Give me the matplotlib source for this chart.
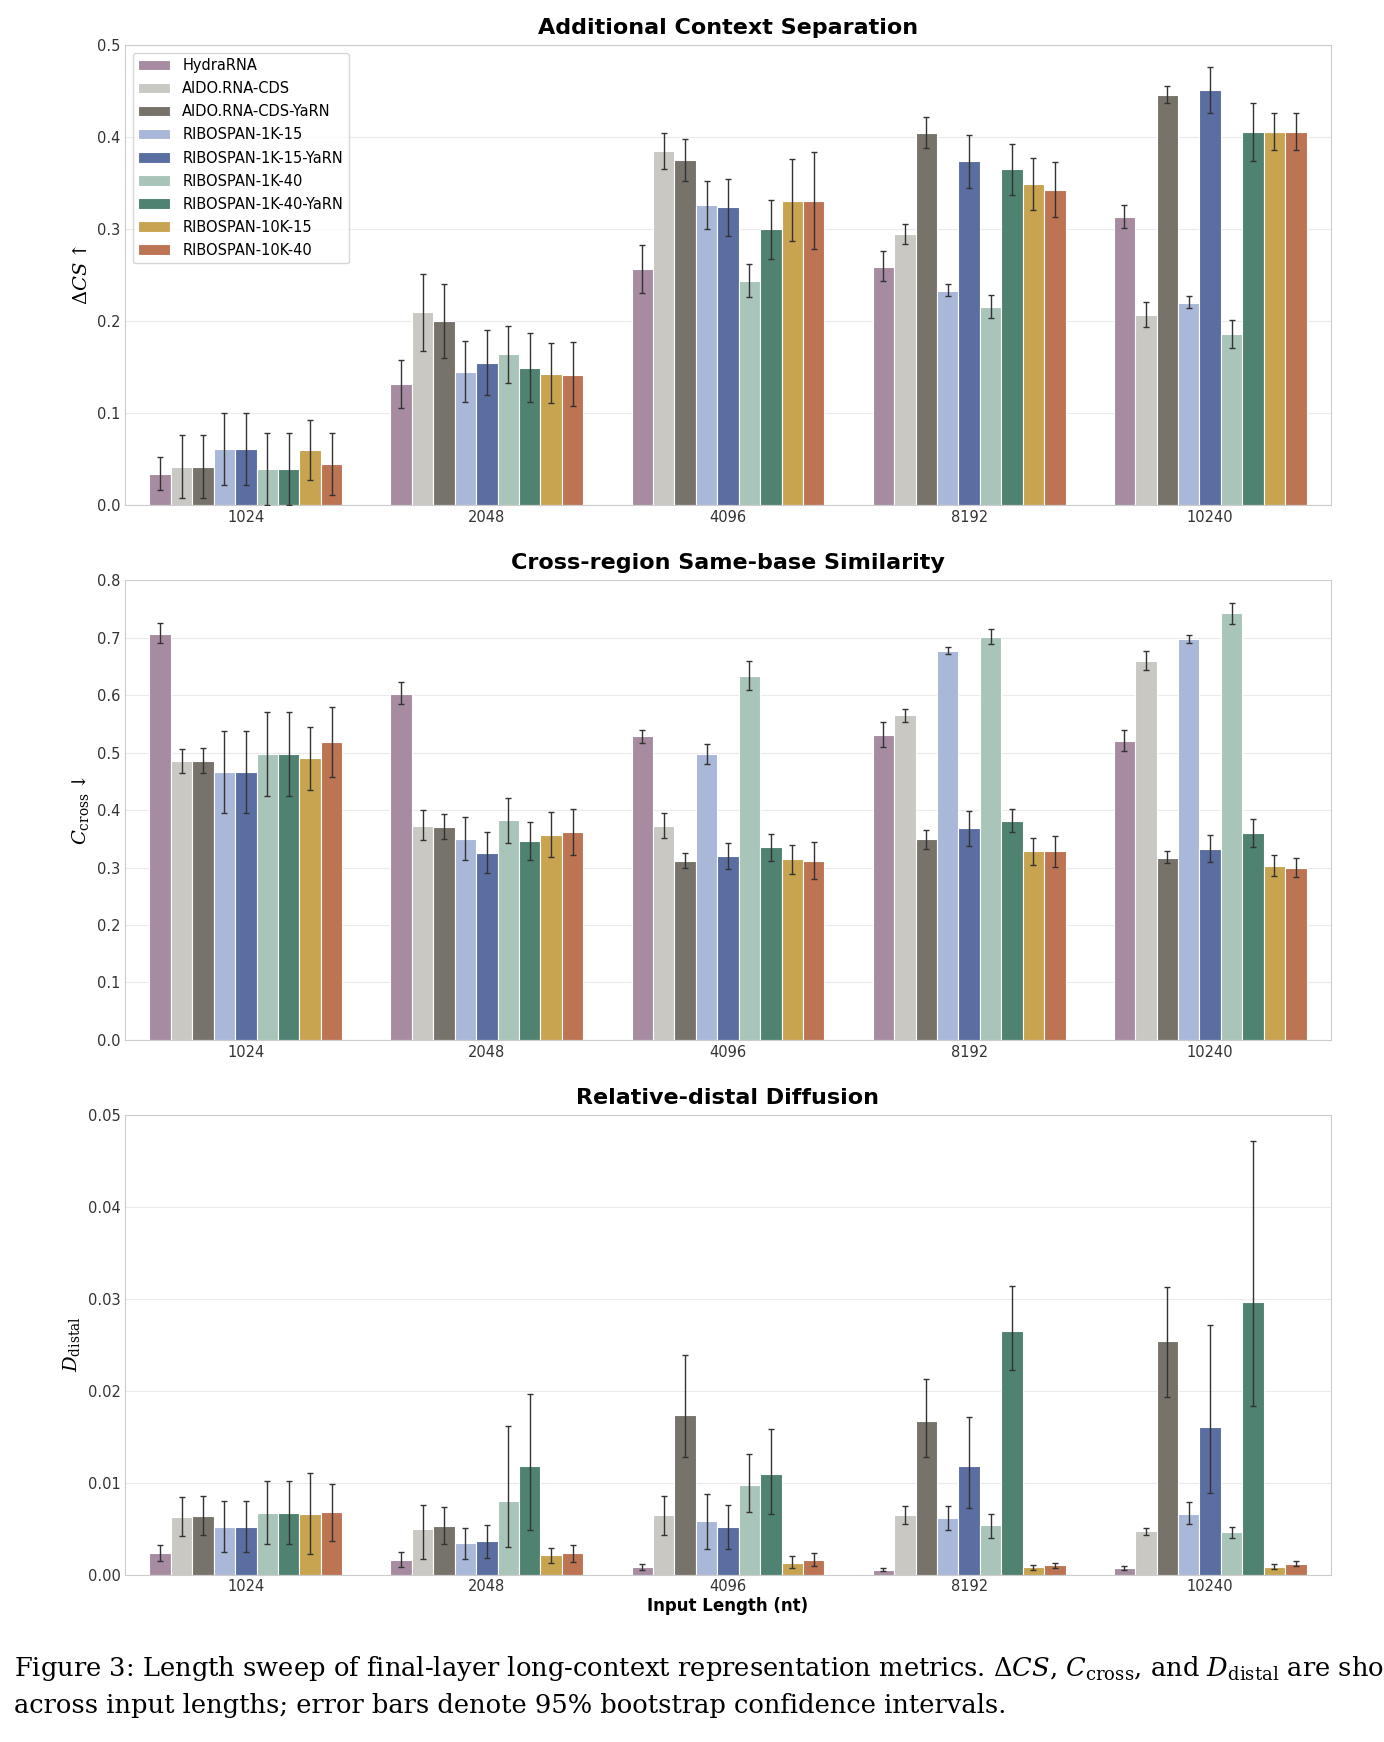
import matplotlib

matplotlib.use("Agg")
import matplotlib.pyplot as plt
import numpy as np

LENGTHS = ["1024", "2048", "4096", "8192", "10240"]
MODELS = ["HydraRNA", "AIDO.RNA-CDS", "AIDO.RNA-CDS-YaRN", "RIBOSPAN-1K-15",
          "RIBOSPAN-1K-15-YaRN", "RIBOSPAN-1K-40", "RIBOSPAN-1K-40-YaRN",
          "RIBOSPAN-10K-15", "RIBOSPAN-10K-40"]
COLORS = ["#a68ba1", "#c9c8c2", "#77736a", "#a9b8d8", "#5a6ea1",
          "#a9c4b8", "#4f8271", "#c8a451", "#bc7453"]

# rows = lengths, columns = models
dcs = [[.034, .042, .042, .061, .061, .039, .039, .060, .045],
       [.132, .210, .200, .145, .155, .164, .149, .143, .142],
       [.257, .385, .375, .326, .324, .244, .300, .331, .331],
       [.259, .295, .405, .233, .374, .216, .365, .349, .343],
       [.313, .207, .446, .220, .451, .186, .406, .406, .406]]
dcs_lo = [[.016, .008, .008, .022, .022, .000, .000, .027, .011],
          [.106, .168, .160, .112, .120, .133, .112, .111, .108],
          [.231, .366, .352, .300, .293, .226, .268, .287, .278],
          [.244, .284, .388, .227, .345, .203, .337, .321, .313],
          [.301, .194, .437, .214, .426, .171, .374, .386, .386]]
dcs_hi = [[.052, .076, .076, .100, .100, .078, .078, .093, .079],
          [.158, .251, .240, .178, .190, .195, .187, .176, .177],
          [.283, .405, .398, .352, .355, .262, .332, .376, .384],
          [.276, .306, .422, .240, .403, .229, .393, .377, .373],
          [.326, .221, .456, .227, .476, .201, .437, .426, .426]]

ccross = [[.707, .485, .485, .466, .466, .498, .498, .490, .519],
          [.602, .373, .371, .350, .326, .382, .346, .357, .361],
          [.528, .373, .312, .497, .320, .634, .335, .314, .312],
          [.531, .565, .349, .677, .368, .701, .381, .328, .328],
          [.520, .659, .317, .697, .332, .742, .360, .303, .299]]
ccross_lo = [[.690, .465, .465, .395, .395, .425, .425, .435, .458],
             [.585, .348, .350, .313, .290, .343, .313, .318, .322],
             [.517, .352, .300, .480, .298, .608, .312, .288, .280],
             [.510, .554, .333, .672, .338, .688, .362, .305, .301],
             [.502, .643, .307, .691, .309, .723, .336, .286, .283]]
ccross_hi = [[.725, .506, .508, .537, .538, .571, .571, .545, .580],
             [.622, .400, .393, .388, .362, .421, .379, .396, .401],
             [.540, .395, .326, .514, .343, .660, .358, .340, .345],
             [.553, .576, .365, .683, .399, .715, .401, .351, .355],
             [.539, .676, .328, .704, .357, .761, .384, .321, .316]]

ddist = [[.0023, .0063, .0064, .0052, .0052, .0067, .0067, .0066, .0068],
         [.0016, .0050, .0053, .0034, .0037, .0080, .0118, .0021, .0023],
         [.0008, .0065, .0174, .0058, .0052, .0097, .0109, .0013, .0016],
         [.0005, .0065, .0167, .0062, .0118, .0054, .0265, .0008, .0010],
         [.0007, .0047, .0254, .0066, .0161, .0046, .0296, .0008, .0012]]
ddist_lo = [[.0015, .0042, .0043, .0025, .0025, .0033, .0033, .0022, .0037],
            [.0008, .0017, .0033, .0017, .0018, .0030, .0048, .0013, .0014],
            [.0005, .0043, .0128, .0028, .0028, .0068, .0066, .0007, .0009],
            [.0004, .0055, .0128, .0049, .0072, .0040, .0222, .0005, .0007],
            [.0005, .0043, .0193, .0055, .0089, .0040, .0183, .0006, .0009]]
ddist_hi = [[.0032, .0084, .0085, .0080, .0080, .0102, .0102, .0110, .0098],
            [.0025, .0076, .0073, .0051, .0054, .0162, .0196, .0029, .0032],
            [.0011, .0085, .0239, .0088, .0076, .0131, .0158, .0020, .0024],
            [.0007, .0075, .0213, .0075, .0171, .0066, .0314, .0010, .0013],
            [.0009, .0051, .0313, .0079, .0271, .0052, .0471, .0011, .0015]]

PANELS = [
    ("Additional Context Separation", r"$\Delta CS\uparrow$", dcs, dcs_lo, dcs_hi,
     0.5, np.arange(0, 0.51, 0.1), "%.1f"),
    ("Cross-region Same-base Similarity", r"$C_{\mathrm{cross}}\downarrow$", ccross, ccross_lo, ccross_hi,
     0.8, np.arange(0, 0.81, 0.1), "%.1f"),
    ("Relative-distal Diffusion", r"$D_{\mathrm{distal}}$", ddist, ddist_lo, ddist_hi,
     0.05, np.arange(0, 0.051, 0.01), "%.2f"),
]
BOTTOMS = [0.710, 0.403, 0.0961]

fig = plt.figure(figsize=(13.84, 17.42), dpi=100)
plt.rcParams["mathtext.fontset"] = "dejavuserif"
nm = len(MODELS)
w = 0.8 / nm
xg = np.arange(len(LENGTHS))

for i, (title, ylab, vals, lo, hi, ymax, ticks, fmt) in enumerate(PANELS):
    ax = fig.add_axes([0.0905, BOTTOMS[i], 0.871, 0.264])
    vals, lo, hi = np.array(vals), np.array(lo), np.array(hi)
    for m in range(nm):
        xs = xg - 0.4 + w * (m + 0.5)
        ax.bar(xs, vals[:, m], width=w, color=COLORS[m], edgecolor="white",
               linewidth=0.8, label=MODELS[m], zorder=2)
        ax.errorbar(xs, vals[:, m], yerr=[vals[:, m] - lo[:, m], hi[:, m] - vals[:, m]],
                    fmt="none", ecolor="#333333", elinewidth=1.0, capsize=2, zorder=3)
    ax.set_xlim(-0.5, len(LENGTHS) - 0.5)
    ax.set_ylim(0, ymax)
    ax.set_yticks(ticks)
    ax.set_yticklabels([fmt % t for t in ticks])
    ax.set_xticks(xg)
    ax.set_xticklabels(LENGTHS)
    ax.tick_params(labelsize=10.5, colors="#333333", length=0)
    ax.grid(axis="y", color="#ebebeb", linewidth=0.8, zorder=0)
    for s in ax.spines.values():
        s.set_color("#cccccc")
    ax.set_title(title, fontsize=16, fontweight="bold", pad=8)
    ax.set_ylabel(ylab, fontsize=14)
    if i == 0:
        ax.legend(loc="upper left", fontsize=10.5, frameon=True, edgecolor="#cccccc",
                  handlelength=2.2, labelspacing=0.55)
    if i == 2:
        ax.set_xlabel("Input Length (nt)", fontsize=12, fontweight="bold", labelpad=2)

cap1 = (r"Figure 3: Length sweep of final-layer long-context representation metrics. "
        r"$\Delta CS$, $C_{\mathrm{cross}}$, and $D_{\mathrm{distal}}$ are shown")
cap2 = "across input lengths; error bars denote 95% bootstrap confidence intervals."
fig.text(0.010, 0.042, cap1, fontsize=18.5, family="DejaVu Serif", va="center")
fig.text(0.010, 0.021, cap2, fontsize=18.5, family="DejaVu Serif", va="center")

fig.savefig("out.png", dpi=100, facecolor="white")
